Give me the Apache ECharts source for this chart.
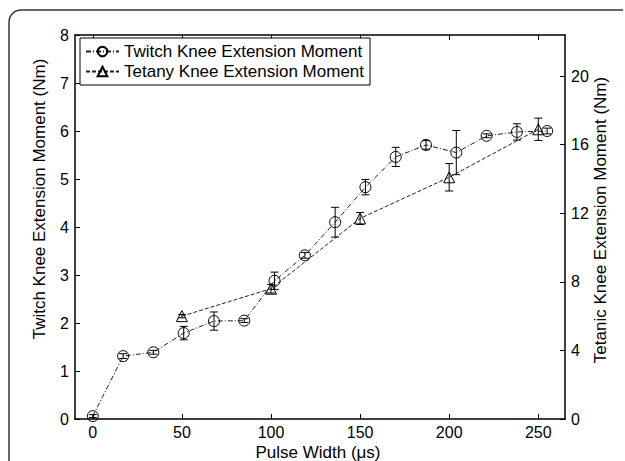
<!DOCTYPE html>
<html>
<head>
<meta charset="utf-8">
<script src="https://cdn.jsdelivr.net/npm/echarts@6/dist/echarts.min.js"></script>
<style>
  html, body { margin: 0; padding: 0; background: #fff; }
  #chart { width: 625px; height: 461px; }
</style>
</head>
<body>
<div id="chart"></div>
<script>
// data
const pulseWidth = [0, 17, 34, 51, 68, 85, 102, 119, 136, 153, 170, 187, 204, 221, 238, 255];
const twitchMean = [0.06, 1.31, 1.39, 1.79, 2.04, 2.05, 2.88, 3.41, 4.10, 4.83, 5.46, 5.71, 5.55, 5.90, 5.98, 6.00];
const twitchErr = [0.03, 0.05, 0.04, 0.14, 0.19, 0.04, 0.18, 0.06, 0.31, 0.16, 0.20, 0.09, 0.46, 0.04, 0.17, 0.06];

const tetanyWidth = [50, 100, 150, 200, 250];
const tetanyMean = [6.0, 7.6, 11.7, 14.1, 16.9];
const tetanyErr = [0.1, 0.25, 0.35, 0.8, 0.65];

const xTicks = [0, 50, 100, 150, 200, 250];
const rightTicks = [0, 4, 8, 12, 16, 20];
const twitchName = 'Twitch Knee Extension Moment';
const tetanyName = 'Tetany Knee Extension Moment';

const FONT = 'Liberation Sans, Arial, sans-serif';

// error bars: vertical line with small caps
function errorBar(params, api) {
  const x = api.value(0);
  const lo = api.coord([x, api.value(1)]);
  const hi = api.coord([x, api.value(2)]);
  const hw = 4;
  const st = { stroke: '#000', lineWidth: 1 };
  return {
    type: 'group',
    children: [
      { type: 'line', shape: { x1: lo[0], y1: lo[1], x2: hi[0], y2: hi[1] }, style: st },
      { type: 'line', shape: { x1: lo[0] - hw, y1: lo[1], x2: lo[0] + hw, y2: lo[1] }, style: st },
      { type: 'line', shape: { x1: hi[0] - hw, y1: hi[1], x2: hi[0] + hw, y2: hi[1] }, style: st }
    ]
  };
}

const chart = echarts.init(document.getElementById('chart'), null, { renderer: 'svg' });

const axisText = { color: '#000', fontFamily: FONT, fontSize: 16 };
const axisLine = { show: true, onZero: false, lineStyle: { color: '#000', width: 1.5 } };
const tickIn = { show: true, inside: true, length: 5, lineStyle: { color: '#000' } };
const frameStyle = { fill: 'none', stroke: '#333', lineWidth: 1.5 };
const titleFont = '17px ' + FONT;

chart.setOption({
  animation: false,
  backgroundColor: '#fff',
  grid: { left: 75, right: 60, top: 35, bottom: 42 },
  legend: {
    data: [twitchName, tetanyName],
    orient: 'vertical',
    left: 80,
    top: 38,
    padding: [5, 6, 5, 5],
    itemGap: 3,
    itemWidth: 33,
    itemHeight: 12,
    backgroundColor: '#fff',
    borderColor: '#000',
    borderWidth: 1,
    borderRadius: 0,
    textStyle: { color: '#000', fontFamily: FONT, fontSize: 17 }
  },
  xAxis: [
    {
      type: 'value', min: -10, max: 265,
      axisLine: axisLine,
      axisTick: { ...tickIn, customValues: xTicks },
      axisLabel: { ...axisText, margin: 5, customValues: xTicks },
      splitLine: { show: false }
    },
    {
      type: 'value', min: -10, max: 265, position: 'top',
      axisLine: axisLine,
      axisTick: { ...tickIn, customValues: xTicks },
      axisLabel: { show: false },
      splitLine: { show: false }
    }
  ],
  yAxis: [
    {
      type: 'value', min: 0, max: 8, interval: 1,
      axisLine: axisLine,
      axisTick: tickIn,
      axisLabel: { ...axisText, margin: 6 },
      splitLine: { show: false }
    },
    {
      type: 'value', min: 0, max: 22.4, position: 'right',
      axisLine: axisLine,
      axisTick: { ...tickIn, customValues: rightTicks },
      axisLabel: { ...axisText, margin: 6, customValues: rightTicks },
      splitLine: { show: false }
    }
  ],
  graphic: [
    // outer figure frame with rounded top-left corner
    { type: 'line', silent: true, shape: { x1: 9, y1: 461, x2: 9, y2: 22 }, style: frameStyle },
    { type: 'arc', silent: true, shape: { cx: 21, cy: 22, r: 12, startAngle: Math.PI, endAngle: Math.PI * 1.5 }, style: frameStyle },
    { type: 'line', silent: true, shape: { x1: 21, y1: 10, x2: 623, y2: 10 }, style: frameStyle },
    {
      type: 'text', x: 39, y: 199, rotation: Math.PI / 2,
      style: { text: 'Twitch Knee Extension Moment (Nm)', fill: '#000', font: titleFont, align: 'center', verticalAlign: 'middle' }
    },
    {
      type: 'text', x: 600, y: 220, rotation: Math.PI / 2,
      style: { text: 'Tetanic Knee Extension Moment (Nm)', fill: '#000', font: titleFont, align: 'center', verticalAlign: 'middle' }
    },
    {
      type: 'text', x: 318, y: 452,
      style: { text: 'Pulse Width (μs)', fill: '#000', font: titleFont, align: 'center', verticalAlign: 'middle' }
    }
  ],
  series: [
    {
      name: twitchName,
      type: 'line',
      xAxisIndex: 0, yAxisIndex: 0,
      data: pulseWidth.map((x, i) => [x, twitchMean[i]]),
      symbol: 'circle', symbolSize: 11, showSymbol: true,
      lineStyle: { color: '#222', width: 1, type: [5, 2, 1, 2] },
      itemStyle: { color: 'rgba(0,0,0,0)', borderColor: '#000', borderWidth: 1 },
      z: 3
    },
    {
      name: tetanyName,
      type: 'line',
      xAxisIndex: 0, yAxisIndex: 1,
      data: tetanyWidth.map((x, i) => [x, tetanyMean[i]]),
      symbol: 'triangle', symbolSize: 11, showSymbol: true,
      lineStyle: { color: '#222', width: 1, type: [4, 2] },
      itemStyle: { color: 'rgba(0,0,0,0)', borderColor: '#000', borderWidth: 1 },
      z: 3
    },
    {
      name: 'twitch error',
      type: 'custom',
      xAxisIndex: 0, yAxisIndex: 0,
      renderItem: errorBar,
      encode: { x: 0, y: [1, 2] },
      data: pulseWidth.map((x, i) => [x, twitchMean[i] - twitchErr[i], twitchMean[i] + twitchErr[i]]),
      z: 4
    },
    {
      name: 'tetany error',
      type: 'custom',
      xAxisIndex: 0, yAxisIndex: 1,
      renderItem: errorBar,
      encode: { x: 0, y: [1, 2] },
      data: tetanyWidth.map((x, i) => [x, tetanyMean[i] - tetanyErr[i], tetanyMean[i] + tetanyErr[i]]),
      z: 4
    }
  ]
});
</script>
</body>
</html>
